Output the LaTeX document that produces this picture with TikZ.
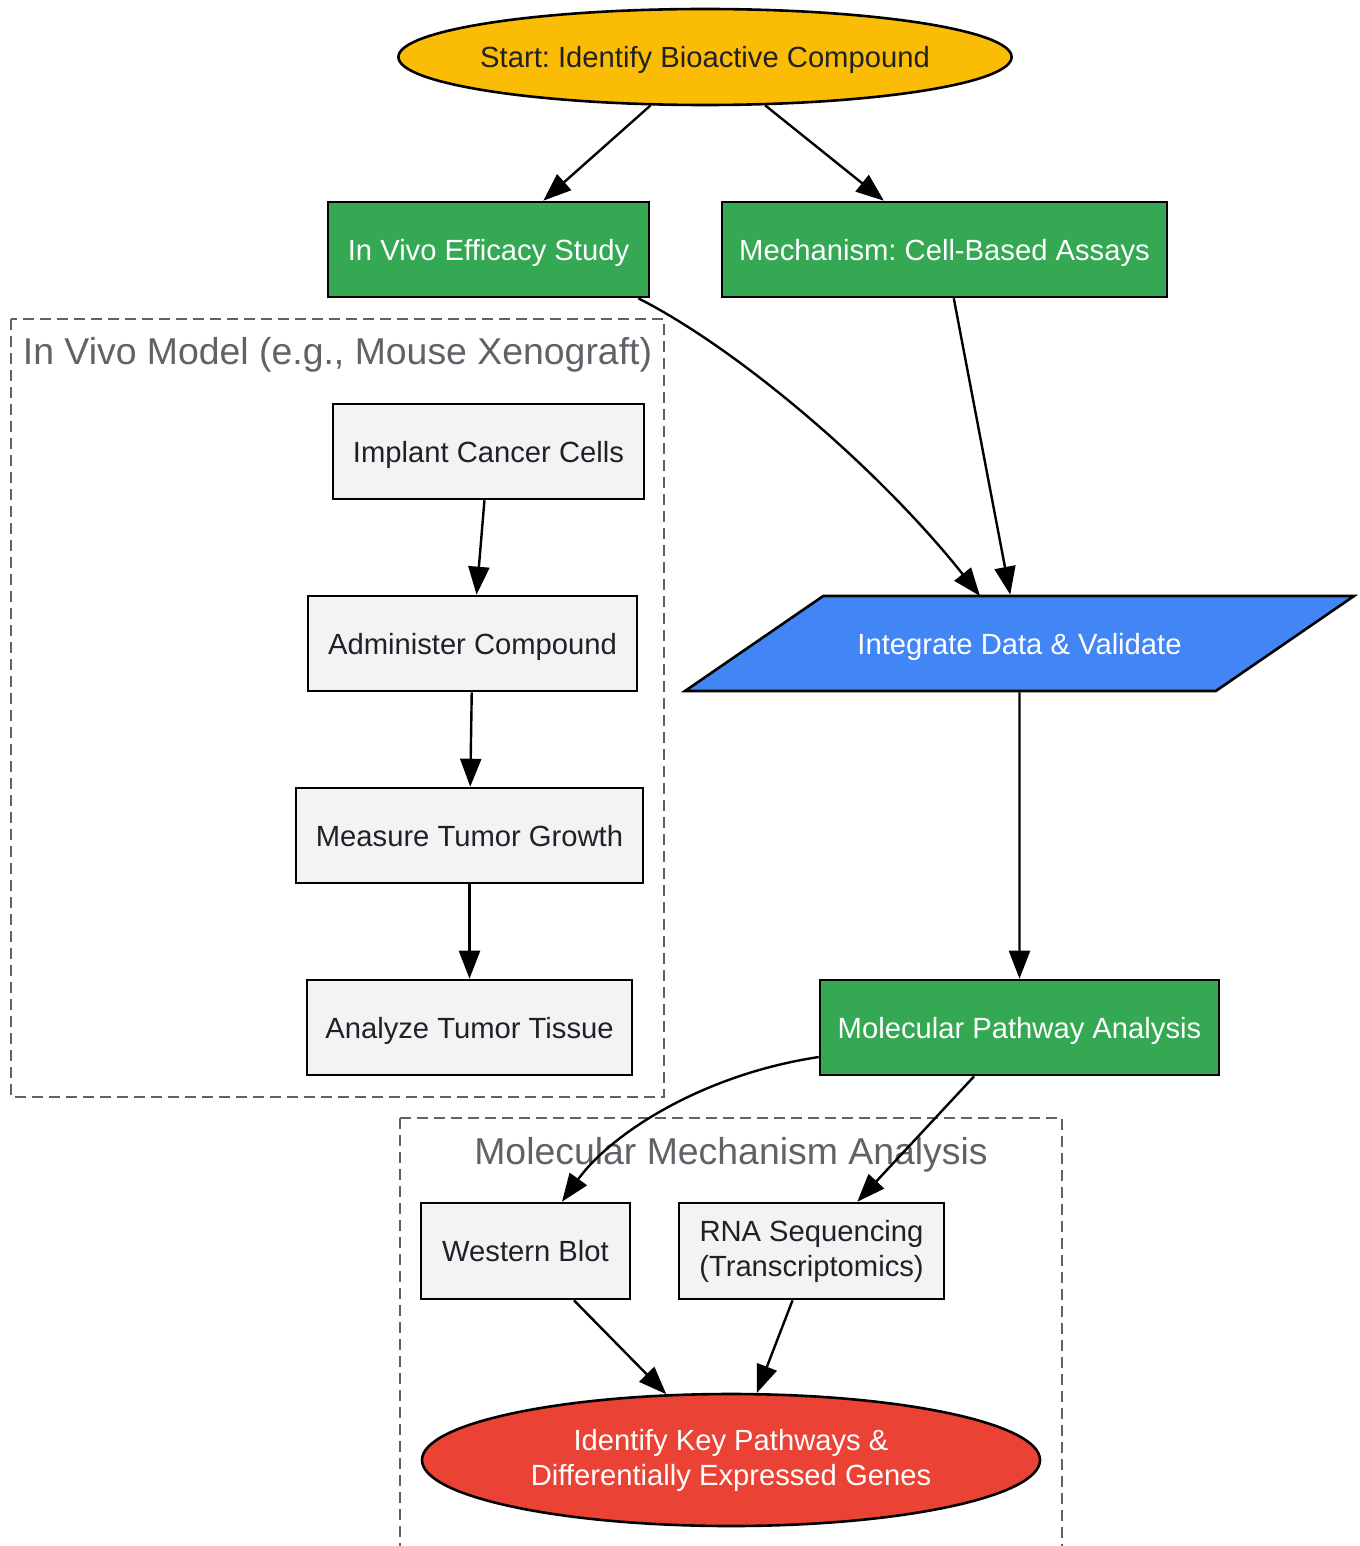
\documentclass[tikz,border=0pt]{standalone}
\usepackage{fontspec}
\setmainfont{Liberation Sans}
\usetikzlibrary{shapes.geometric,arrows.meta}

\definecolor{gyellow}{HTML}{FBBC05}
\definecolor{ggreen}{HTML}{34A853}
\definecolor{gblue}{HTML}{4285F4}
\definecolor{gred}{HTML}{EA4335}
\definecolor{glight}{HTML}{F1F3F4}
\definecolor{ggrey}{HTML}{5F6368}
\definecolor{gdark}{HTML}{202124}

\frenchspacing

\begin{document}
\begin{tikzpicture}[x=0.5pt,y=-0.5pt,
    every node/.style={font=\fontsize{14.6}{17.5}\selectfont},
    oneline/.style={text height=13.5pt,text depth=3pt},
    box/.style={draw=black,line width=1.3pt,rectangle,minimum height=47.5pt,inner sep=0pt,align=center},
    greenbox/.style={box,oneline,fill=ggreen,text=white},
    greybox/.style={box,fill=glight,text=gdark},
    flow/.style={-{Triangle[length=14pt,width=10.5pt]},line width=1.2pt},
    cluster/.style={draw=ggrey,line width=1pt,dash pattern=on 5.5pt off 3pt},
    clusterlabel/.style={text=ggrey,font=\fontsize{18.7}{22}\selectfont}]

    \useasboundingbox (0,0) rectangle (1359,1546);

    % clusters
    \draw[cluster] (11,319) rectangle (664,1097);
    \node[clusterlabel] (lblvivo) at (337.5,355) {In Vivo Model (e.g., Mouse Xenograft)};

    \draw[cluster] (400,1118) -- (400,1560);
    \draw[cluster] (400,1118) -- (1062,1118) -- (1062,1560);
    \node[clusterlabel] (lblmol) at (731,1155) {Molecular Mechanism Analysis};

    % nodes
    \node[ellipse,oneline,draw=black,line width=1.3pt,fill=gyellow,text=gdark,inner ysep=0pt,inner xsep=-4pt,
          minimum width=304pt,minimum height=48pt] (start) at (705,57) {Start: Identify Bioactive Compound};

    \node[greenbox,minimum width=160.5pt] (invivo) at (488.5,249.5) {In Vivo Efficacy Study};
    \node[greenbox,minimum width=222.5pt] (mech) at (944.5,249.5) {Mechanism: Cell-Based Assays};

    \node[greybox,oneline,minimum width=155.5pt] (implant) at (488.5,451.5) {Implant Cancer Cells};
    \node[greybox,oneline,minimum width=164.5pt] (admin) at (472.5,643.5) {Administer Compound};
    \node[greybox,oneline,minimum width=173.5pt] (measure) at (469.5,835.5) {Measure Tumor Growth};
    \node[greybox,oneline,minimum width=162.5pt] (analyze) at (469.5,1027.5) {Analyze Tumor Tissue};

    \node[trapezium,oneline,trapezium left angle=34.5,trapezium right angle=145.5,trapezium stretches body=true,
          draw=black,line width=1.3pt,fill=gblue,text=white,inner xsep=0pt,inner ysep=15.5pt,
          minimum width=334.5pt] (integ) at (1019.5,643.5) {Integrate Data \& Validate};

    \node[greenbox,minimum width=199.5pt] (mol) at (1019.5,1027.5) {Molecular Pathway Analysis};

    \node[greybox,oneline,minimum width=104.5pt,minimum height=48pt] (western) at (525.5,1251) {Western Blot};
    \node[greybox,minimum width=132.5pt,minimum height=48pt] (rna) at (811.5,1251) {RNA Sequencing\\(Transcriptomics)};

    \node[ellipse,draw=black,line width=1.3pt,fill=gred,text=white,inner sep=0pt,align=center,
          minimum width=309pt,minimum height=66pt] (finish) at (731,1460) {Identify Key Pathways \&\\Differentially Expressed Genes};

    % edges
    \draw[flow] (start) -- (invivo);
    \draw[flow] (start) -- (mech);

    \draw[flow] ([shift={(-12,0)}]invivo.south east) .. controls (740,350) and (880,470) .. ([shift={(-39.5,-47.5)}]integ.center);
    \draw[flow] (mech) -- (integ);

    \draw[flow] (implant) -- (admin);
    \draw[flow] (admin) -- (measure);
    \draw[flow] (measure) -- (analyze);

    \draw[flow] (integ) -- (mol);

    \draw[flow] ([shift={(0,29.5)}]mol.west) .. controls (700,1075) and (610,1135) .. ([shift={(36.5,0)}]western.north);
    \draw[flow] (mol) -- (rna);

    \draw[flow] (western) -- (finish);
    \draw[flow] (rna) -- (finish);

\end{tikzpicture}
\end{document}
